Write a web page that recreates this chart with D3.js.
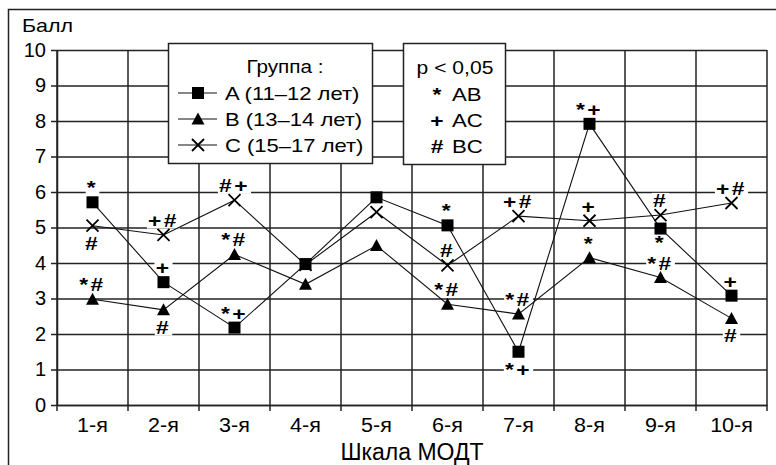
<!DOCTYPE html>
<html>
<head>
<meta charset="utf-8">
<script src="https://cdn.jsdelivr.net/npm/d3@7"></script>
<style>
  body { margin: 0; background: #fff; }
  svg { font-family: "Liberation Sans", Arial, sans-serif; }
</style>
</head>
<body>
<div id="chart"></div>
<script>
// scale names (x axis)
const categories = ['1-я', '2-я', '3-я', '4-я', '5-я', '6-я', '7-я', '8-я', '9-я', '10-я']

// mean score per group
const groupA = [5.71, 3.46, 2.18, 3.97, 5.85, 5.06, 1.50, 7.92, 4.97, 3.08]
const groupB = [2.98, 2.68, 4.24, 3.40, 4.49, 2.84, 2.56, 4.15, 3.59, 2.44]
const groupC = [5.05, 4.79, 5.77, 3.95, 5.43, 3.93, 5.32, 5.19, 5.35, 5.69]

const groupNames = ['A (11–12 лет)', 'B (13–14 лет)', 'C (15–17 лет)']
const yTicks = [0, 1, 2, 3, 4, 5, 6, 7, 8, 9, 10]

// significance marks: [category, group, text, side]
const sigMarks = [
  ['1-я', 'A', '*', 'above'], ['1-я', 'C', '#', 'below'], ['1-я', 'B', '*#', 'above'],
  ['2-я', 'C', '+#', 'above'], ['2-я', 'A', '+', 'above'], ['2-я', 'B', '#', 'below'],
  ['3-я', 'C', '#+', 'above'], ['3-я', 'B', '*#', 'above'], ['3-я', 'A', '*+', 'above'],
  ['6-я', 'A', '*', 'above'], ['6-я', 'C', '#', 'above'], ['6-я', 'B', '*#', 'above'],
  ['7-я', 'C', '+#', 'above'], ['7-я', 'B', '*#', 'above'], ['7-я', 'A', '*+', 'below'],
  ['8-я', 'A', '*+', 'above'], ['8-я', 'C', '+', 'above'], ['8-я', 'B', '*', 'above'],
  ['9-я', 'C', '#', 'above'], ['9-я', 'A', '*', 'below'], ['9-я', 'B', '*#', 'above'],
  ['10-я', 'C', '+#', 'above'], ['10-я', 'A', '+', 'above'], ['10-я', 'B', '#', 'below']
]
const sigLegend = [['*', 'AB'], ['+', 'AC'], ['#', 'BC']]

const width = 776, height = 465
const margin = {top: 50, right: 9, bottom: 60, left: 57}

const series = [
  {key: 'A', name: groupNames[0], values: groupA, symbol: 'square'},
  {key: 'B', name: groupNames[1], values: groupB, symbol: 'triangle'},
  {key: 'C', name: groupNames[2], values: groupC, symbol: 'cross'}
]
const byKey = Object.fromEntries(series.map(s => [s.key, s]))

// the source text is a bit wider than Arial, so stretch it about its anchor
const stretch = (x, sx) => `translate(${x},0) scale(${sx},1) translate(${-x},0)`

const svg = d3.select('#chart').append('svg')
  .attr('width', width)
  .attr('height', height)

// outer frame (only top and left are visible in the picture)
svg.append('rect')
  .attr('x', 8.5).attr('y', 9.5)
  .attr('width', width + 20).attr('height', height + 20)
  .attr('fill', 'none').attr('stroke', '#222').attr('stroke-width', 1.5)

const x = d3.scaleBand()
  .domain(categories)
  .range([margin.left, width - margin.right])

const y = d3.scaleLinear()
  .domain([0, 10])
  .range([height - margin.bottom, margin.top])

const plotW = width - margin.right - margin.left

// horizontal grid + y labels
const yAxis = svg.append('g')
  .attr('transform', `translate(${margin.left},0)`)
  .call(d3.axisLeft(y).tickValues(yTicks).tickSizeInner(6).tickSizeOuter(0).tickPadding(5))
yAxis.select('.domain').attr('stroke', '#222').attr('stroke-width', 1.5)
yAxis.selectAll('.tick line').attr('stroke', '#222').attr('stroke-width', 1.5)
yAxis.selectAll('.tick').append('line')
  .attr('x2', plotW)
  .attr('stroke', '#222').attr('stroke-width', 1.5)
yAxis.selectAll('.tick text')
  .attr('font-size', 20).attr('fill', '#000')
  .attr('font-family', '"Liberation Sans", Arial, sans-serif')

// vertical grid at band edges
const edges = categories.map(c => x(c)).concat([x.range()[1]])
svg.append('g').selectAll('line')
  .data(edges)
  .join('line')
  .attr('x1', d => d).attr('x2', d => d)
  .attr('y1', y(10)).attr('y2', y(0) + 6)
  .attr('stroke', '#222').attr('stroke-width', 1.5)

// x labels
const xAxis = svg.append('g')
  .attr('transform', `translate(0,${y(0)})`)
  .call(d3.axisBottom(x).tickSize(0).tickPadding(12))
xAxis.select('.domain').attr('stroke', '#222').attr('stroke-width', 1.5)
xAxis.selectAll('.tick text')
  .attr('font-size', 20.5).attr('fill', '#000')
  .attr('font-family', '"Liberation Sans", Arial, sans-serif')
  .attr('transform', 'scale(1.05,1)')

svg.append('text')
  .attr('x', (margin.left + width - margin.right) / 2)
  .attr('y', 460)
  .attr('text-anchor', 'middle')
  .attr('font-size', 23)
  .text('Шкала МОДТ')

svg.append('text')
  .attr('x', 22).attr('y', 32)
  .attr('font-size', 18.5)
  .attr('transform', stretch(22, 1.16))
  .text('Балл')

// significance marks, with white knock-out behind
const cx = c => x(c) + x.bandwidth() / 2
const markG = svg.append('g')
sigMarks.forEach(([cat, key, txt, side]) => {
  const v = byKey[key].values[categories.indexOf(cat)]
  const px = cx(cat), py = y(v)
  // a lone star sits high in its em box, so it needs less room below a point
  const below = txt === '*' ? 20 : 24
  const g = markG.append('g').attr('transform', stretch(px, 1.2))
  const t = g.append('text')
    .attr('x', px)
    .attr('y', side === 'above' ? py - 8 : py + below)
    .attr('text-anchor', 'middle')
    .attr('font-size', 19)
    .attr('font-weight', 'bold')
    .attr('letter-spacing', 2)
    .text(txt)
  const bb = t.node().getBBox()
  g.insert('rect', 'text')
    .attr('x', bb.x - 1).attr('y', bb.y + 3)
    .attr('width', bb.width + 2).attr('height', bb.height - 5)
    .attr('fill', '#fff')
})

// series lines
const line = d3.line()
  .x((d, i) => cx(categories[i]))
  .y(d => y(d))

svg.append('g').selectAll('path')
  .data(series)
  .join('path')
  .attr('d', d => line(d.values))
  .attr('fill', 'none')
  .attr('stroke', '#111')
  .attr('stroke-width', 1.1)

function drawMarker(sel, symbol) {
  if (symbol === 'square') {
    sel.append('rect')
      .attr('x', -6).attr('y', -6).attr('width', 12).attr('height', 12)
      .attr('fill', '#000')
  } else if (symbol === 'triangle') {
    sel.append('path')
      .attr('d', 'M0,-6.5L6.5,5.5L-6.5,5.5Z')
      .attr('fill', '#000')
  } else {
    sel.append('path')
      .attr('d', 'M-6,-6L6,6M-6,6L6,-6')
      .attr('stroke', '#000').attr('stroke-width', 1.8)
  }
}

series.forEach(s => {
  svg.append('g').selectAll('g')
    .data(s.values)
    .join('g')
    .attr('transform', (d, i) => `translate(${cx(categories[i])},${y(d)})`)
    .each(function() { drawMarker(d3.select(this), s.symbol) })
})

// legend: groups
const leg = svg.append('g')
leg.append('rect')
  .attr('x', 168.5).attr('y', 43.5).attr('width', 204).attr('height', 120)
  .attr('fill', '#fff').attr('stroke', '#222').attr('stroke-width', 1.5)
leg.append('text')
  .attr('x', 285).attr('y', 73)
  .attr('text-anchor', 'middle').attr('font-size', 18.5)
  .attr('transform', stretch(285, 1.12))
  .text('Группа :')
series.forEach((s, i) => {
  const ly = 93 + i * 26
  leg.append('line')
    .attr('x1', 178).attr('x2', 217).attr('y1', ly).attr('y2', ly)
    .attr('stroke', '#111').attr('stroke-width', 1.1)
  drawMarker(leg.append('g').attr('transform', `translate(198,${ly})`), s.symbol)
  leg.append('text')
    .attr('x', 225).attr('y', ly + 7)
    .attr('font-size', 18.5)
    .attr('transform', stretch(225, 1.19))
    .text(s.name)
})

// legend: significance
const leg2 = svg.append('g')
leg2.append('rect')
  .attr('x', 403.5).attr('y', 43.5).attr('width', 102).attr('height', 121)
  .attr('fill', '#fff').attr('stroke', '#222').attr('stroke-width', 1.5)
leg2.append('text')
  .attr('x', 455).attr('y', 74)
  .attr('text-anchor', 'middle').attr('font-size', 18.5)
  .attr('transform', stretch(455, 1.14))
  .text('p < 0,05')
sigLegend.forEach(([sym, pair], i) => {
  const ly = 101 + i * 26
  leg2.append('text')
    .attr('x', 437).attr('y', ly)
    .attr('text-anchor', 'middle').attr('font-size', 19).attr('font-weight', 'bold')
    .attr('transform', stretch(437, 1.2))
    .text(sym)
  leg2.append('text')
    .attr('x', 452).attr('y', ly)
    .attr('font-size', 18.5)
    .attr('transform', stretch(452, 1.2))
    .text(pair)
})
</script>
</body>
</html>
